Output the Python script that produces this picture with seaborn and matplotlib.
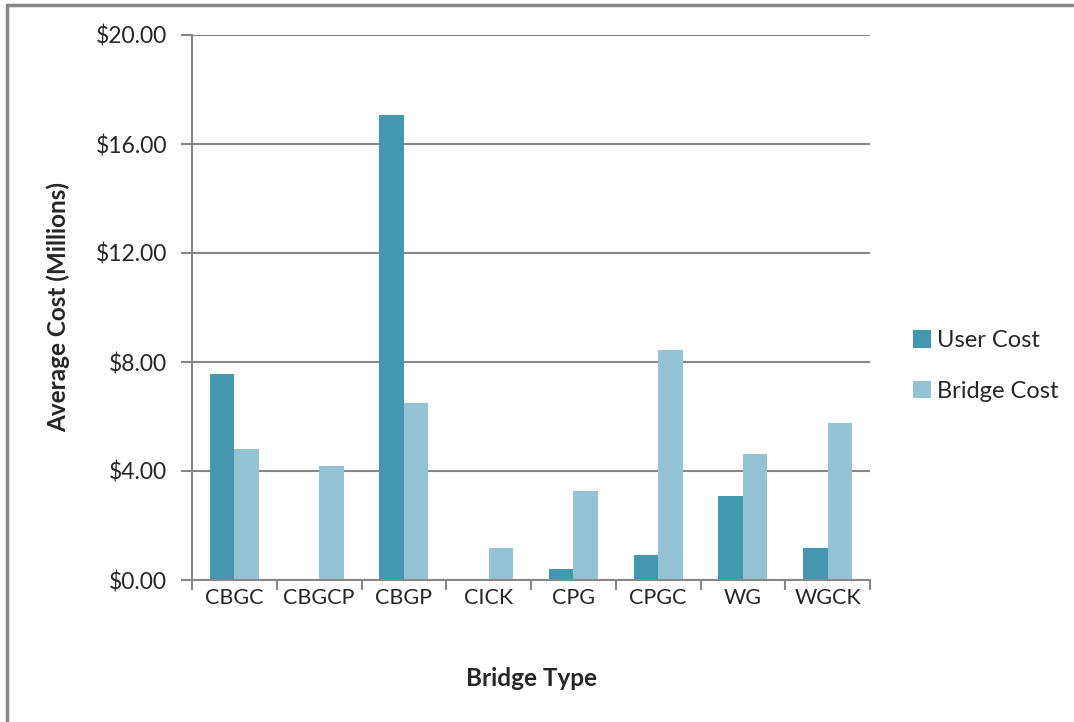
import matplotlib
matplotlib.use("Agg")
import matplotlib.pyplot as plt
import numpy as np
import pandas as pd
import seaborn as sns
from matplotlib.lines import Line2D
from matplotlib.patches import Patch

bridge_types = ["CBGC", "CBGCP", "CBGP", "CICK", "CPG", "CPGC", "WG", "WGCK"]
user_cost = [7.57, 0.0, 17.08, 0.0, 0.39, 0.91, 3.07, 1.17]
bridge_cost = [4.81, 4.20, 6.48, 1.17, 3.25, 8.44, 4.61, 5.77]
series_names = ["User Cost", "Bridge Cost"]
y_ticks = [0, 4, 8, 12, 16, 20]

colors = {"User Cost": "#4398B0", "Bridge Cost": "#94C3D5"}
grey = "#878787"

df = pd.DataFrame({
    "Bridge Type": bridge_types * 2,
    "Series": [series_names[0]] * len(bridge_types) + [series_names[1]] * len(bridge_types),
    "Cost": user_cost + bridge_cost,
})

sns.set_theme(style="white")
plt.rcParams["font.family"] = ["Lato", "DejaVu Sans"]

fig = plt.figure(figsize=(10.74, 7.22), dpi=100)
ax = fig.add_axes([192 / 1074, 1 - 580 / 722, (870 - 192) / 1074, (580 - 35) / 722])

sns.barplot(
    data=df, x="Bridge Type", y="Cost", hue="Series",
    palette=colors, width=0.58, saturation=1, ax=ax, legend=False,
    edgecolor="none",
)

ax.set_ylim(0, 20)
ax.set_xlim(-0.5, len(bridge_types) - 0.5)
ax.set_yticks(y_ticks)
ax.set_yticklabels([f"${v:.2f}" for v in y_ticks], fontsize=16.5)
ax.yaxis.grid(True, color=grey, linewidth=1.5)
ax.set_axisbelow(True)

# category labels centred, tick marks at category boundaries
ax.set_xticks(np.arange(len(bridge_types)))
ax.set_xticklabels(bridge_types, fontsize=15.5)
ax.tick_params(axis="x", which="major", length=0, pad=6)
ax.set_xticks(np.arange(len(bridge_types) + 1) - 0.5, minor=True)
ax.tick_params(axis="x", which="minor", direction="out", length=7, width=1.5, color=grey, bottom=True)
ax.tick_params(axis="y", direction="out", length=8, width=1.5, color=grey, left=True, pad=10)

for s in ["top", "right"]:
    ax.spines[s].set_visible(False)
for s in ["left", "bottom"]:
    ax.spines[s].set_color(grey)
    ax.spines[s].set_linewidth(1.5)

ax.set_xlabel("Bridge Type", fontsize=17.5, fontweight="bold", labelpad=42)
ax.set_ylabel("Average Cost (Millions)", fontsize=17.5, fontweight="bold", labelpad=18)

handles = [Patch(facecolor=colors[n], edgecolor="none") for n in series_names]
fig.legend(
    handles, series_names, loc="center left", bbox_to_anchor=(892 / 1074, 1 - 366 / 722),
    frameon=False, fontsize=17, handlelength=0.75, handleheight=0.75,
    handletextpad=0.25, labelspacing=1.25,
)

# outer chart border (left and top only visible)
fig.add_artist(Line2D([7 / 1074, 7 / 1074], [0, 1 - 5 / 722], color=grey, linewidth=2.5, transform=fig.transFigure))
fig.add_artist(Line2D([7 / 1074, 1073 / 1074], [1 - 5 / 722, 1 - 5 / 722], color=grey, linewidth=2.5, transform=fig.transFigure))

fig.savefig("out.png", dpi=100)
